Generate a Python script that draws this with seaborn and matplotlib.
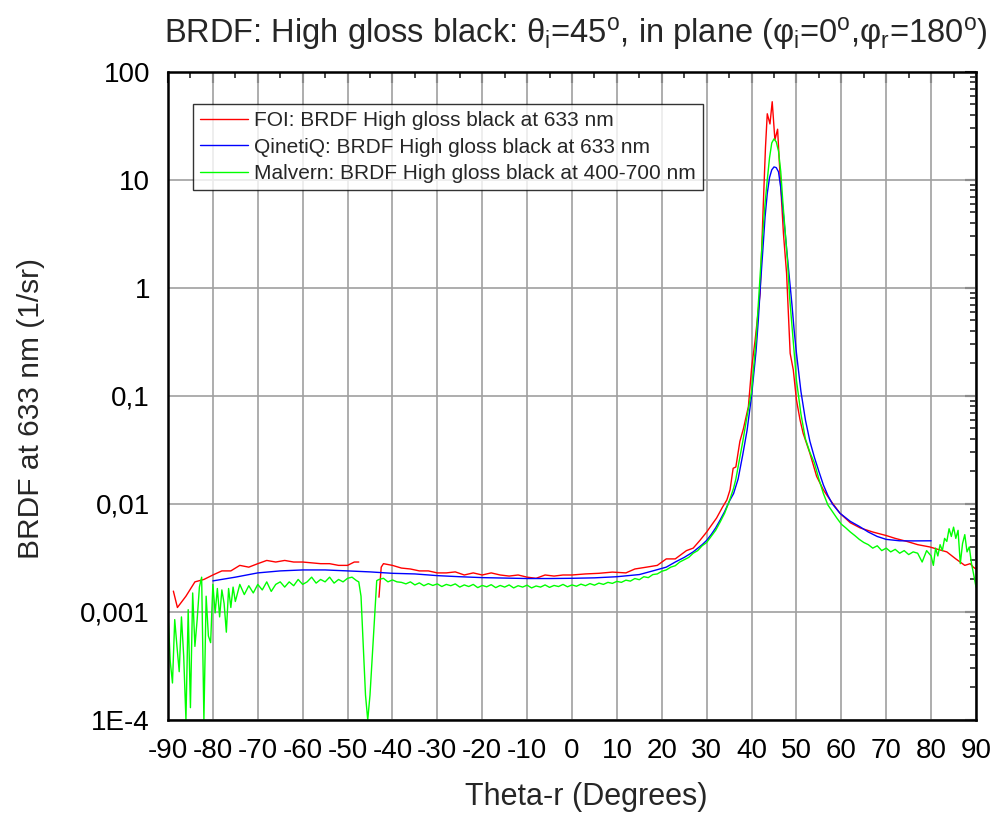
import numpy as np
import pandas as pd
import seaborn as sns
import matplotlib.pyplot as plt
from matplotlib.ticker import LogLocator, MultipleLocator, NullFormatter

# FOI (red), measured with a gap near -45 deg
foi_x1 = [-88.8, -87.9, -86, -84, -82, -80, -78, -76, -74, -72, -70, -68, -66, -64, -62, -60,
          -58, -56, -54, -52, -50, -48.5, -47.5]
foi_y1 = [0.00156, 0.0011, 0.0014, 0.0019, 0.002, 0.0022, 0.0024, 0.0024, 0.0027, 0.0026, 0.0028,
          0.003, 0.0029, 0.003, 0.0029, 0.0029, 0.00285, 0.0028, 0.0028, 0.0027, 0.0027, 0.0029, 0.0029]
foi_x2 = [-43, -42.5, -42, -40, -38, -36, -34, -32, -30, -28, -26, -24, -22, -20, -18, -16, -14,
          -12, -10, -8, -6, -4, -2, 0, 3, 6, 9, 12, 14, 16.6, 19, 21, 23, 25.5, 27, 28.5, 30, 31,
          32.2, 33.5, 34.5, 35.2, 35.9, 36.5, 37.4, 38.2, 39.3, 40, 40.8, 41.9, 42.6, 43.1, 43.5,
          44.1, 44.6, 45.2, 45.8, 46.2, 47.1, 47.8, 48.6, 49.3, 50, 50.8, 51.5, 53, 54.5, 56,
          57.5, 59.7, 62, 64.2, 67, 70, 72, 74.6, 77, 79.7, 81.5, 83.5, 85.5, 87.5, 88.7, 89.4, 90]
foi_y2 = [0.00137, 0.0026, 0.0028, 0.0027, 0.00255, 0.0025, 0.0024, 0.0024, 0.0023, 0.0023,
          0.00235, 0.0022, 0.0023, 0.0022, 0.0023, 0.0022, 0.00215, 0.0022, 0.0021, 0.00205,
          0.0022, 0.00215, 0.0022, 0.0022, 0.00225, 0.00228, 0.00234, 0.0023, 0.0025, 0.0026,
          0.0027, 0.0031, 0.0031, 0.0037, 0.0039, 0.0046, 0.0055, 0.0063, 0.0074, 0.0093, 0.0109,
          0.0135, 0.0214, 0.022, 0.038, 0.05, 0.08, 0.18, 0.33, 0.89, 5.7, 20, 41, 33, 53, 23.5,
          29.5, 14.3, 3.2, 1.37, 0.248, 0.174, 0.092, 0.06, 0.045, 0.0294, 0.018, 0.0135, 0.0109,
          0.0082, 0.0067, 0.006, 0.0055, 0.0051, 0.0048, 0.0045, 0.0042, 0.004, 0.0038, 0.0036,
          0.0031, 0.0027, 0.0028, 0.0026, 0.0025]

# QinetiQ (blue)
qin_x = [-80, -75, -70, -65, -60, -55, -50, -45, -40, -35, -30, -25, -20, -15, -10, -5, 0, 5,
         10, 15, 18, 21, 23, 25, 27, 29, 30, 31, 32, 33, 34, 35, 36, 37, 38, 39, 40, 41, 41.5,
         42, 42.5, 43, 43.5, 44, 44.5, 45, 45.5, 46, 46.5, 47, 47.5, 48, 48.5, 49, 49.5, 50, 51,
         52, 53, 54, 55, 56, 57, 58, 59.7, 62, 64, 66, 68, 70, 73, 76, 80]
qin_y = [0.00194, 0.0021, 0.0023, 0.0024, 0.00245, 0.00245, 0.0024, 0.00235, 0.00228, 0.00225,
         0.00217, 0.00212, 0.00208, 0.00206, 0.00204, 0.00204, 0.00205, 0.00207, 0.00212,
         0.00222, 0.0024, 0.0026, 0.0029, 0.0032, 0.0036, 0.0042, 0.0046, 0.0052, 0.006, 0.0071,
         0.0085, 0.0105, 0.0125, 0.017, 0.028, 0.048, 0.1, 0.26, 0.5, 1.1, 2.2, 4.5, 7.5, 10.5,
         12.4, 13.2, 13, 11.9, 8.5, 5.3, 3.2, 1.9, 1.15, 0.7, 0.4, 0.25, 0.11, 0.06, 0.038,
         0.027, 0.02, 0.015, 0.012, 0.01, 0.0082, 0.0069, 0.0062, 0.0055, 0.005, 0.0047, 0.00456,
         0.00455, 0.00456]

# Malvern (green), noisy
mal_x = [-90, -89.5, -89, -88.5, -88, -87.5, -87, -86.5, -86, -85.5, -85, -84.5, -84, -83.5,
         -83, -82.5, -82, -81.5, -81, -80.5, -80, -79.5, -79, -78.5, -78, -77.5, -77, -76.5,
         -76, -75.5, -75, -74, -73, -72, -71, -70, -69, -68, -67, -66, -65, -64, -63, -62, -61,
         -60, -59, -58, -57, -56, -55, -54, -53, -52, -51, -50, -49, -48, -47.5, -47, -46.5,
         -46, -45.5, -45, -44.5, -44, -43.5, -43, -42, -41, -40, -39, -38, -37, -36, -35, -34,
         -33, -32, -31, -30, -29, -28, -27, -26, -25, -24, -23, -22, -21, -20, -19, -18, -17,
         -16, -15, -14, -13, -12, -11, -10, -9, -8, -7, -6, -5, -4, -3, -2, -1, 0, 1, 2, 3, 4,
         5, 6, 7, 8, 9, 10, 11, 12, 13, 14, 15, 16, 17, 18, 19, 20, 21, 22, 23, 24, 25, 26, 27,
         28, 29, 30, 31, 32, 33, 34, 35, 36, 36.5, 37, 38, 39, 40, 41, 41.5, 42, 42.5, 43, 43.5,
         44, 44.5, 45, 45.5, 46, 46.5, 47, 47.5, 48, 48.5, 49, 49.5, 50, 51, 52, 53, 54, 55, 56,
         57, 58, 59, 60, 61, 62, 63, 64, 65, 66, 67, 68, 69, 70, 71, 72, 73, 74, 75, 76, 77, 78,
         79, 80, 80.5, 81, 81.5, 82, 82.5, 83, 83.5, 84, 84.5, 85, 85.5, 86, 86.5, 87, 87.5, 88,
         88.5, 89, 89.5, 90]
mal_y = [0.001, 0.00035, 0.00022, 0.00085, 0.00048, 0.00028, 0.0009, 0.00039, 0.0001, 0.00105,
         0.00013, 0.0015, 0.00048, 0.00085, 0.0017, 0.0021, 0.0001, 0.0014, 0.0006, 0.00052,
         0.0018, 0.00098, 0.00165, 0.0009, 0.0016, 0.0012, 0.00065, 0.00165, 0.0011, 0.0017,
         0.00125, 0.0018, 0.00145, 0.00175, 0.0015, 0.0018, 0.0016, 0.0019, 0.00155, 0.0018,
         0.0019, 0.0017, 0.0019, 0.00175, 0.002, 0.0018, 0.0019, 0.0021, 0.00185, 0.002, 0.0019,
         0.0021, 0.00185, 0.002, 0.0019, 0.00205, 0.0021, 0.00195, 0.0019, 0.0014, 0.00048,
         0.00017, 0.0001, 0.00017, 0.00039, 0.00086, 0.00195, 0.002, 0.00205, 0.0019, 0.00198,
         0.0019, 0.00188, 0.00182, 0.0019, 0.00178, 0.00186, 0.00175, 0.00183, 0.00176, 0.00182,
         0.00172, 0.0018, 0.00175, 0.00182, 0.0017, 0.00178, 0.00172, 0.0018, 0.00168, 0.00176,
         0.00171, 0.00179, 0.00168, 0.00176, 0.0017, 0.00178, 0.00167, 0.00175, 0.0017, 0.00177,
         0.00167, 0.00174, 0.0017, 0.00178, 0.00169, 0.00176, 0.00172, 0.0018, 0.00171, 0.00178,
         0.00173, 0.00181, 0.00175, 0.00183, 0.00177, 0.00185, 0.0018, 0.00188, 0.00184,
         0.00192, 0.00188, 0.00197, 0.00193, 0.00204, 0.00199, 0.00212, 0.00208, 0.00222,
         0.00225, 0.00238, 0.00245, 0.0026, 0.00268, 0.0029, 0.00305, 0.0032, 0.0035, 0.0037,
         0.0041, 0.0044, 0.005, 0.0057, 0.0068, 0.0082, 0.0105, 0.014, 0.017, 0.022, 0.037,
         0.065, 0.11, 0.33, 0.7, 1.5, 3.2, 6, 10, 16, 22, 24, 22.5, 18.5, 12, 6, 3.3, 1.8, 0.8,
         0.45, 0.25, 0.14, 0.068, 0.04, 0.03, 0.024, 0.017, 0.0125, 0.0098, 0.0085, 0.0074,
         0.0065, 0.006, 0.0055, 0.0051, 0.0047, 0.0044, 0.0042, 0.0039, 0.0041, 0.0037, 0.0039,
         0.0036, 0.0038, 0.0035, 0.0037, 0.0034, 0.0036, 0.0035, 0.0029, 0.0037, 0.0033,
         0.0027, 0.0039, 0.0033, 0.0042, 0.0037, 0.0048, 0.0045, 0.0059, 0.005, 0.0061, 0.0048,
         0.0057, 0.0028, 0.0043, 0.0052, 0.0036, 0.004, 0.0028, 0.0022, 0.0017]

labels = ['FOI: BRDF High gloss black at 633 nm',
          'QinetiQ: BRDF High gloss black at 633 nm',
          'Malvern: BRDF High gloss black at 400-700 nm']
ytick_vals = [1e-4, 1e-3, 1e-2, 1e-1, 1, 10, 100]
ytick_labels = ['1E-4', '0,001', '0,01', '0,1', '1', '10', '100']

sns.set_style('white')
plt.rcParams['font.family'] = ['Liberation Sans', 'DejaVu Sans']
plt.rcParams['axes.unicode_minus'] = False
plt.rcParams['mathtext.fontset'] = 'custom'
plt.rcParams['mathtext.rm'] = 'Liberation Sans'
plt.rcParams['mathtext.it'] = 'Liberation Sans'

fig = plt.figure(figsize=(9.94, 8.25), dpi=100)
ax = fig.add_axes([0.169, 0.1273, 0.8129, 0.7855])

lw = 1.0
sns.lineplot(x=foi_x1, y=foi_y1, color='#ff0000', lw=lw, ax=ax, label=labels[0], sort=False, estimator=None)
sns.lineplot(x=foi_x2, y=foi_y2, color='#ff0000', lw=lw, ax=ax, sort=False, estimator=None)
sns.lineplot(x=qin_x, y=qin_y, color='#0000ff', lw=lw, ax=ax, label=labels[1], sort=False, estimator=None)
sns.lineplot(x=mal_x, y=mal_y, color='#00ff00', lw=lw, ax=ax, label=labels[2], sort=False, estimator=None)

ax.set_yscale('log')
ax.set_xlim(-90, 90)
ax.set_ylim(1e-4, 100)
ax.set_xticks(np.arange(-90, 91, 10))
ax.xaxis.set_minor_locator(MultipleLocator(5))
ax.set_yticks(ytick_vals)
ax.set_yticklabels(ytick_labels)
ax.yaxis.set_minor_locator(LogLocator(base=10, subs=np.arange(2, 10), numticks=20))
ax.yaxis.set_minor_formatter(NullFormatter())
ax.tick_params(axis='both', which='major', direction='out', length=8, width=1.5, labelsize=20,
               colors='black', pad=5)
ax.tick_params(axis='both', which='minor', direction='out', length=4, width=1.2)
ax.grid(True, which='major', color='#a0a0a0', lw=1.2)
for s in ax.spines.values():
    s.set_color('black')
    s.set_linewidth(1.8)

# inward ticks on top and right
top = ax.secondary_xaxis('top')
top.set_xticks(np.arange(-90, 91, 10))
top.xaxis.set_minor_locator(MultipleLocator(5))
top.tick_params(which='major', direction='in', length=8, width=1.5, labeltop=False)
top.tick_params(which='minor', direction='in', length=4, width=1.2)
right = ax.secondary_yaxis('right')
right.set_yticks(ytick_vals)
right.yaxis.set_minor_locator(LogLocator(base=10, subs=np.arange(2, 10), numticks=20))
right.yaxis.set_minor_formatter(NullFormatter())
right.tick_params(which='major', direction='in', length=8, width=1.5, labelright=False)
right.tick_params(which='minor', direction='in', length=4, width=1.2)

ax.set_xlabel('Theta-r (Degrees)', fontsize=22, labelpad=18)
ax.xaxis.set_label_coords(0.518, -0.095)
ax.set_ylabel('BRDF at 633 nm (1/sr)', fontsize=21.5)
ax.yaxis.set_label_coords(-0.152, 0.48)
ax.set_title(r'BRDF: High gloss black: $\theta_i$=45$^o$, in plane ($\varphi_i$=0$^o$,$\varphi_r$=180$^o$)',
             fontsize=23.5, pad=21, x=0.505)

h, l = ax.get_legend_handles_labels()
leg = ax.legend(h, l, loc='upper left', bbox_to_anchor=(0.0306, 0.9506), fontsize=15,
                frameon=True, fancybox=False, edgecolor='black', handlelength=2.3,
                handletextpad=0.3, borderpad=0.35, labelspacing=0.35, borderaxespad=0)
leg.get_frame().set_linewidth(1.0)

fig.savefig('out.png', dpi=100)
